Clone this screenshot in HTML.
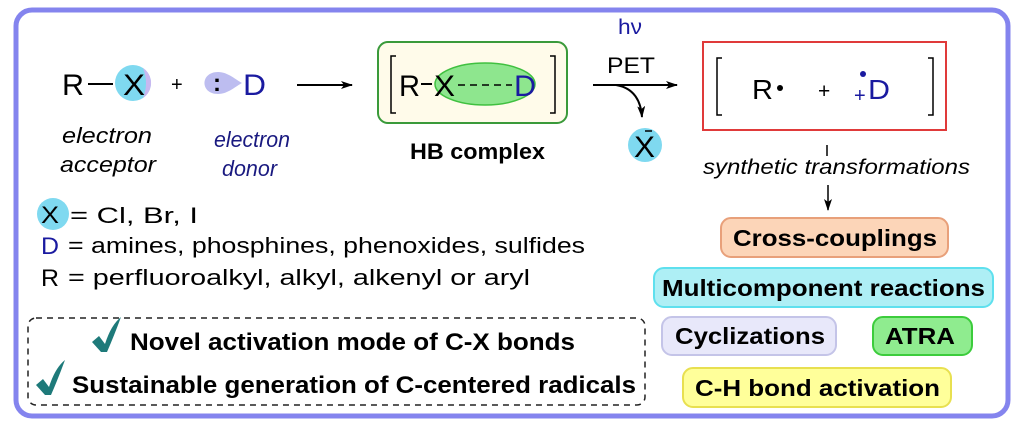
<!DOCTYPE html>
<html><head><meta charset="utf-8"><style>
body{margin:0;background:#fff;}
svg{display:block;font-family:"Liberation Sans",Arial,sans-serif;}
</style></head><body>
<svg width="1024" height="431" viewBox="0 0 1024 431">
<defs>
<marker id="ah" markerWidth="12" markerHeight="8" refX="11" refY="4" orient="auto" markerUnits="userSpaceOnUse"><path d="M0,0 L12,4 L0,8 L3,4z" fill="#000"/></marker>
</defs>
<rect x="0" y="0" width="1024" height="431" fill="#fff"/>
<rect x="16" y="10" width="992" height="406" rx="16" fill="#fff" stroke="#8484ee" stroke-width="5"/>
<!-- R-X -->
<text x="62" y="95" font-size="30" textLength="22" lengthAdjust="spacingAndGlyphs">R</text>
<line x1="88" y1="84" x2="113" y2="84" stroke="#000" stroke-width="2"/>
<ellipse cx="133" cy="83" rx="18" ry="18" fill="#7fd9f0"/>
<path d="M143,68 A18,18 0 0,1 143,98 Q149,83 143,68z" fill="#c8b8f0"/>
<text x="123" y="95" font-size="30" textLength="22" lengthAdjust="spacingAndGlyphs">X</text>
<text x="171" y="91" font-size="20">+</text>
<path d="M218,72 C200,72 200,94 218,94 C228,94 236,86 242,83 C236,80 228,72 218,72z" fill="#bdbdf0"/>
<text x="213" y="91" font-size="24" font-weight="bold" fill="#000">:</text>
<text x="243" y="95" font-size="30" fill="#1a1aa0" textLength="23" lengthAdjust="spacingAndGlyphs">D</text>
<text x="62" y="143" font-size="22" font-style="italic" textLength="90" lengthAdjust="spacingAndGlyphs">electron</text>
<text x="60" y="172" font-size="22" font-style="italic" textLength="96" lengthAdjust="spacingAndGlyphs">acceptor</text>
<text x="214" y="147" font-size="22" font-style="italic" fill="#1a1a80" textLength="76" lengthAdjust="spacingAndGlyphs">electron</text>
<text x="222" y="176" font-size="22" font-style="italic" fill="#1a1a80" textLength="55" lengthAdjust="spacingAndGlyphs">donor</text>
<line x1="297" y1="85" x2="352" y2="85" stroke="#000" stroke-width="2" marker-end="url(#ah)"/>
<!-- HB complex -->
<rect x="378" y="42" width="189" height="81" rx="10" fill="#fffbea" stroke="#3a9a3a" stroke-width="2"/>
<path d="M396,56 h-5 v57 h5 M550,56 h5 v57 h-5" fill="none" stroke="#000" stroke-width="1.5"/>
<ellipse cx="485" cy="84" rx="50" ry="21" fill="#8ee68e" stroke="#40c040" stroke-width="1.5"/>
<text x="399" y="96" font-size="30" textLength="21" lengthAdjust="spacingAndGlyphs">R</text>
<line x1="421" y1="84" x2="432" y2="84" stroke="#000" stroke-width="2"/>
<text x="434" y="96" font-size="30" textLength="21" lengthAdjust="spacingAndGlyphs">X</text>
<line x1="458" y1="85" x2="512" y2="85" stroke="#000" stroke-width="1.5" stroke-dasharray="7,5"/>
<text x="514" y="96" font-size="30" fill="#1a1aa0" textLength="22" lengthAdjust="spacingAndGlyphs">D</text>
<text x="410" y="159" font-size="22" font-weight="bold" textLength="135" lengthAdjust="spacingAndGlyphs">HB complex</text>
<!-- PET -->
<text x="618" y="34" font-size="21" fill="#1a1aa0" textLength="24" lengthAdjust="spacingAndGlyphs">hν</text>
<text x="607" y="73" font-size="22" textLength="48" lengthAdjust="spacingAndGlyphs">PET</text>
<line x1="593" y1="85" x2="677" y2="85" stroke="#000" stroke-width="2" marker-end="url(#ah)"/>
<path d="M616,85 Q640,89 642,117" fill="none" stroke="#000" stroke-width="2" marker-end="url(#ah)"/>
<circle cx="645" cy="145" r="17" fill="#7fd9f0"/>
<text x="634" y="157" font-size="30" textLength="21" lengthAdjust="spacingAndGlyphs">X</text>
<line x1="645" y1="131" x2="652" y2="131" stroke="#000" stroke-width="1.5"/>
<!-- red box -->
<rect x="703" y="42" width="243" height="88" fill="#fff" stroke="#e03a3a" stroke-width="2"/>
<path d="M722,58 h-5 v57 h5 M928,58 h5 v57 h-5" fill="none" stroke="#000" stroke-width="1.5"/>
<text x="752" y="99" font-size="28" textLength="21" lengthAdjust="spacingAndGlyphs">R</text>
<circle cx="780" cy="88" r="3" fill="#000"/>
<text x="818" y="98" font-size="21">+</text>
<circle cx="863" cy="74" r="3" fill="#1a1aa0"/>
<text x="854" y="102" font-size="20" fill="#1a1aa0">+</text>
<text x="868" y="99" font-size="28" fill="#1a1aa0" textLength="22" lengthAdjust="spacingAndGlyphs">D</text>
<line x1="827" y1="145" x2="827" y2="156" stroke="#000" stroke-width="1.5"/>
<text x="703" y="174" font-size="21" font-style="italic" textLength="267" lengthAdjust="spacingAndGlyphs">synthetic transformations</text>
<line x1="828" y1="185" x2="828" y2="210" stroke="#000" stroke-width="1.5" marker-end="url(#ah)"/>
<!-- pills -->
<rect x="721" y="218" width="227" height="39" rx="10" fill="#fcd5b8" stroke="#e8a07a" stroke-width="2"/>
<text x="733" y="246" font-size="23" font-weight="bold" textLength="204" lengthAdjust="spacingAndGlyphs">Cross-couplings</text>
<rect x="654" y="268" width="339" height="39" rx="10" fill="#aeeff5" stroke="#5ee0ee" stroke-width="2"/>
<text x="662" y="296" font-size="23" font-weight="bold" textLength="323" lengthAdjust="spacingAndGlyphs">Multicomponent reactions</text>
<rect x="662" y="317" width="174" height="38" rx="10" fill="#e8e8fa" stroke="#c4c4e8" stroke-width="2"/>
<text x="675" y="344" font-size="23" font-weight="bold" textLength="150" lengthAdjust="spacingAndGlyphs">Cyclizations</text>
<rect x="873" y="317" width="99" height="38" rx="10" fill="#8fec8f" stroke="#3ccc3c" stroke-width="2"/>
<text x="885" y="344" font-size="23" font-weight="bold" textLength="70" lengthAdjust="spacingAndGlyphs">ATRA</text>
<rect x="683" y="368" width="268" height="39" rx="10" fill="#ffff9a" stroke="#e8e050" stroke-width="2"/>
<text x="695" y="396" font-size="23" font-weight="bold" textLength="245" lengthAdjust="spacingAndGlyphs">C-H bond activation</text>
<!-- legend -->
<circle cx="53" cy="214" r="16" fill="#7fd9f0"/>
<text x="41" y="223" font-size="24" textLength="18" lengthAdjust="spacingAndGlyphs">X</text>
<text x="70" y="223" font-size="22" textLength="128" lengthAdjust="spacingAndGlyphs">= Cl, Br, I</text>
<text x="41" y="254" font-size="24" fill="#1a1aa0" textLength="18" lengthAdjust="spacingAndGlyphs">D</text>
<text x="68" y="253" font-size="22" textLength="517" lengthAdjust="spacingAndGlyphs">= amines, phosphines, phenoxides, sulfides</text>
<text x="41" y="286" font-size="24" textLength="18" lengthAdjust="spacingAndGlyphs">R</text>
<text x="68" y="285" font-size="22" textLength="462" lengthAdjust="spacingAndGlyphs">= perfluoroalkyl, alkyl, alkenyl or aryl</text>
<rect x="28" y="318" width="617" height="87" rx="8" fill="none" stroke="#222" stroke-width="1.5" stroke-dasharray="6,5"/>
<path d="M92,342 L99,336 L105,344 Q111,325 121,317 Q114,336 107,352 L101,352z" fill="#1e7a7a"/>
<text x="130" y="350" font-size="24" font-weight="bold" textLength="445" lengthAdjust="spacingAndGlyphs">Novel activation mode of C-X bonds</text>
<path d="M36,385 L43,379 L49,387 Q55,368 65,360 Q58,379 51,395 L45,395z" fill="#1e7a7a"/>
<text x="72" y="393" font-size="24" font-weight="bold" textLength="564" lengthAdjust="spacingAndGlyphs">Sustainable generation of C-centered radicals</text>
</svg>
</body></html>
